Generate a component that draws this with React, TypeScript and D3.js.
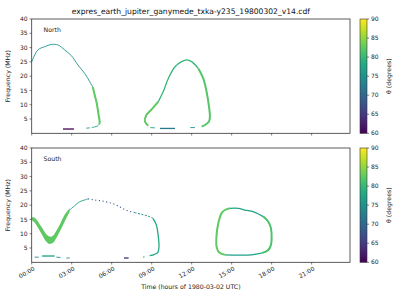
import React from "react";
import * as d3 from "d3";

const TITLE = "expres_earth_jupiter_ganymede_txka-y235_19800302_v14.cdf";
const X_TICKS = [0, 3, 6, 9, 12, 15, 18, 21];
const Y_TICKS = [5, 10, 15, 20, 25, 30, 35, 40];
const CB_TICKS = [60, 65, 70, 75, 80, 85, 90];

// North hemisphere traces: [hour, MHz]
const northArcA = [[0, 25], [0.47, 29.2], [0.97, 30.3], [1.47, 31.1], [1.97, 30.9], [2.47, 29.2], [2.97, 27.2], [3.47, 23.9], [3.97, 21], [4.35, 18.1], [4.58, 16.2]];
const northArcB = [[4.58, 16.2], [4.75, 13], [4.88, 10.5], [5.02, 6.4], [5.1, 3.8], [5.06, 3.2]];
const northArcC = [[5.06, 3.2], [4.95, 2.6], [4.7, 2.2], [4.5, 2.0]];
const northDash1 = [[4.1, 1.8], [4.35, 1.9]];
const northDash2 = [[2.35, 1.5], [3.17, 1.5]];
const northArcD = [[8.75, 2.6], [8.5, 4.1], [8.6, 6.4], [9.0, 8.4], [9.5, 11.1]];
const northArcE = [[9.5, 11.1], [9.87, 14.6], [10.25, 19.2], [10.75, 23.3], [11.25, 25.1], [11.63, 25.7], [12.0, 25.1], [12.5, 22.7]];
const northArcF = [[12.5, 22.7], [12.87, 19.2], [13.12, 14.6], [13.3, 9.3], [13.37, 5.8], [13.3, 4.1], [13.0, 2.9], [12.75, 2.4]];
const northDash3 = [[8.9, 2.0], [9.25, 1.9]];
const northDash4 = [[9.62, 1.7], [10.75, 1.7]];
const northDash5 = [[11.9, 2.0], [12.25, 2.0]];

// South hemisphere traces
const southVTimes = [0, 0.22, 0.72, 1.1, 1.35, 1.6, 1.85, 2.1, 2.47, 2.85];
const southVUpper = [15.8, 15.6, 12.5, 9.8, 9.0, 9.3, 11.0, 13.1, 16.6, 18.9];
const southVLower = [14.8, 13.9, 10.1, 7.2, 6.4, 6.8, 8.5, 10.7, 14.2, 17.7];
const southArcA = [[2.85, 18.3], [3.22, 19.8], [3.6, 21.2], [3.97, 21.8], [4.22, 22.2]];
const southArcB = [[4.22, 22.2], [4.72, 21.8], [5.22, 21.5], [5.72, 21.0], [6.22, 20.3], [6.72, 19.1], [7.22, 18.0], [7.72, 17.4]];
const southArcC = [[7.72, 17.4], [8.22, 16.8], [8.72, 16.2], [9.1, 15.4]];
const southArcD = [[9.1, 15.4], [9.35, 13.1], [9.47, 10.1], [9.55, 5.5], [9.47, 3.5], [9.22, 2.8], [8.85, 2.3]];
const southDash1 = [[8.35, 1.8], [8.47, 1.9]];
const southDash2 = [[6.92, 1.5], [7.27, 1.5]];
const southDash3 = [[2.6, 1.5], [2.85, 1.5]];
const southDash4 = [[1.85, 1.8], [2.17, 1.7]];
const southDash5 = [[0.77, 2.2], [1.72, 2.2]];
const southDash6 = [[0.22, 1.8], [0.52, 1.8]];
const southLoopA = [[14.87, 18.9], [14.5, 18.3], [14.25, 17.2], [14.0, 13.7], [13.87, 9.6], [13.87, 5.5], [14.05, 3.5], [14.5, 2.6]];
const southLoopB = [[14.5, 2.6], [15.5, 2.5], [16.5, 2.6], [17.25, 3.2]];
const southLoopC = [[17.25, 3.2], [17.75, 4.3], [17.95, 6.1], [18.0, 8.4], [17.95, 11.9], [17.75, 14.2], [17.37, 16.0]];
const southLoopD = [[17.37, 16.0], [16.75, 17.5], [16.0, 18.3], [15.5, 18.9], [14.87, 18.9]];

// theta (degrees) for each trace
const northTraces = [
  { pts: northArcA, theta: 75.5, style: "thin" },
  { pts: northArcB, theta: 82.5, style: "thick" },
  { pts: northArcC, theta: 77, style: "thin" },
  { pts: northDash1, theta: 75, style: "thin" },
  { pts: northDash2, theta: 60, style: "mid" },
  { pts: northArcD, theta: 82.5, style: "thick" },
  { pts: northArcE, theta: 80, style: "mid" },
  { pts: northArcF, theta: 82, style: "thick" },
  { pts: northDash3, theta: 78, style: "thin" },
  { pts: northDash4, theta: 72, style: "mid" },
  { pts: northDash5, theta: 75, style: "thin" },
];
const southTraces = [
  { pts: southArcA, theta: 77, style: "thin" },
  { pts: southArcB, theta: 68, style: "dot" },
  { pts: southArcC, theta: 75, style: "dash" },
  { pts: southArcD, theta: 78, style: "mid" },
  { pts: southDash1, theta: 76, style: "thin" },
  { pts: southDash2, theta: 64, style: "mid" },
  { pts: southDash3, theta: 74, style: "thin" },
  { pts: southDash4, theta: 75, style: "thin" },
  { pts: southDash5, theta: 77, style: "mid" },
  { pts: southDash6, theta: 74, style: "thin" },
  { pts: southLoopA, theta: 82.5, style: "thick" },
  { pts: southLoopB, theta: 77, style: "mid" },
  { pts: southLoopC, theta: 81.5, style: "thick" },
  { pts: southLoopD, theta: 77.5, style: "mid" },
];
const SOUTH_V_THETA = 82.5;

const STYLES: Record<string, { w: number; dash?: string }> = {
  thin: { w: 0.9 },
  mid: { w: 1.3 },
  thick: { w: 2 },
  dot: { w: 1.1, dash: "1.1 2.6" },
  dash: { w: 1, dash: "2 1.5" },
};

const LEFT = 31.7;
const RIGHT = 350;
const CB_X = 360;
const CB_W = 7;
const FONT = "DejaVu Sans, sans-serif";
const AXIS_COLOR = "#333";

const x = d3.scaleLinear().domain([0, 23.88]).range([LEFT, RIGHT]);
const color = (t: number) => d3.interpolateViridis((t - 60) / 30);

type PanelProps = {
  top: number;
  bottom: number;
  label: string;
  traces: typeof northTraces;
  showX: boolean;
  gradId: string;
  band?: boolean;
};

const Panel = ({ top, bottom, label, traces, showX, gradId, band }: PanelProps) => {
  const y = d3.scaleLinear().domain([0, 40]).range([bottom, top]);
  const line = d3
    .line<number[]>()
    .x((d) => x(d[0]))
    .y((d) => y(d[1]))
    .curve(d3.curveCatmullRom);
  const area = d3
    .area<number>()
    .x((_, i) => x(southVTimes[i]))
    .y0((_, i) => y(southVLower[i]))
    .y1((_, i) => y(southVUpper[i]))
    .curve(d3.curveCatmullRom);
  const cb = d3.scaleLinear().domain([60, 90]).range([bottom, top]);
  return (
    <g>
      {band && (
        <path d={area(southVTimes) || ""} fill={color(SOUTH_V_THETA)} />
      )}
      {traces.map((tr, i) => (
        <path
          key={i}
          d={line(tr.pts) || ""}
          fill="none"
          stroke={color(tr.theta)}
          strokeWidth={STYLES[tr.style].w}
          strokeDasharray={STYLES[tr.style].dash}
        />
      ))}
      <rect x={LEFT} y={top} width={RIGHT - LEFT} height={bottom - top} fill="none" stroke={AXIS_COLOR} strokeWidth={0.8} />
      {Y_TICKS.map((v) => (
        <g key={v}>
          <line x1={LEFT - 2.2} x2={LEFT} y1={y(v)} y2={y(v)} stroke={AXIS_COLOR} strokeWidth={0.6} />
          <text x={LEFT - 4} y={y(v)} dy="0.35em" textAnchor="end" fontSize={6} fill="#222">
            {v}
          </text>
        </g>
      ))}
      {X_TICKS.map((h) => (
        <g key={h}>
          <line x1={x(h)} x2={x(h)} y1={bottom} y2={bottom + 2.2} stroke={AXIS_COLOR} strokeWidth={0.6} />
          {showX && (
            <text
              transform={`translate(${x(h) + 1.5},${bottom + 4}) rotate(-30)`}
              dy="0.7em"
              textAnchor="end"
              fontSize={6}
              fill="#222"
            >
              {d3.format("02d")(h) + ":00"}
            </text>
          )}
        </g>
      ))}
      <text
        transform={`translate(10,${(top + bottom) / 2}) rotate(-90)`}
        textAnchor="middle"
        fontSize={6.2}
        fill="#222"
      >
        Frequency (MHz)
      </text>
      <text x={43.5} y={top + 13} fontSize={6.2} fill="#222">
        {label}
      </text>
      {/* colorbar */}
      <rect x={CB_X} y={top} width={CB_W} height={bottom - top} fill={`url(#${gradId})`} stroke={AXIS_COLOR} strokeWidth={0.6} />
      {CB_TICKS.map((v) => (
        <g key={v}>
          <line x1={CB_X + CB_W} x2={CB_X + CB_W + 2.2} y1={cb(v)} y2={cb(v)} stroke={AXIS_COLOR} strokeWidth={0.6} />
          <text x={CB_X + CB_W + 4} y={cb(v)} dy="0.35em" fontSize={6} fill="#222">
            {v}
          </text>
        </g>
      ))}
      <text
        transform={`translate(391,${(top + bottom) / 2}) rotate(-90)`}
        textAnchor="middle"
        fontSize={6.2}
        fill="#222"
      >
        θ (degrees)
      </text>
    </g>
  );
};

export default function App() {
  const stops = d3.range(0, 1.0001, 0.1);
  return (
    <svg
      width={400}
      height={300}
      style={{ position: "absolute", left: 0, top: 0, background: "#fff" }}
      fontFamily={FONT}
    >
      <defs>
        {["gradN", "gradS"].map((id) => (
          <linearGradient key={id} id={id} x1="0" y1="1" x2="0" y2="0">
            {stops.map((s) => (
              <stop key={s} offset={s} stopColor={d3.interpolateViridis(s)} />
            ))}
          </linearGradient>
        ))}
      </defs>
      <rect width={400} height={300} fill="#fff" />
      <text x={(LEFT + RIGHT) / 2} y={13.5} textAnchor="middle" fontSize={7.6} fill="#111">
        {TITLE}
      </text>
      <Panel top={19} bottom={133.3} label="North" traces={northTraces} showX={false} gradId="gradN" />
      <Panel top={148} bottom={262.3} label="South" traces={southTraces} showX={true} gradId="gradS" band />
      <text x={(LEFT + RIGHT) / 2} y={289} textAnchor="middle" fontSize={6.2} fill="#222">
        Time (hours of 1980-03-02 UTC)
      </text>
    </svg>
  );
}
